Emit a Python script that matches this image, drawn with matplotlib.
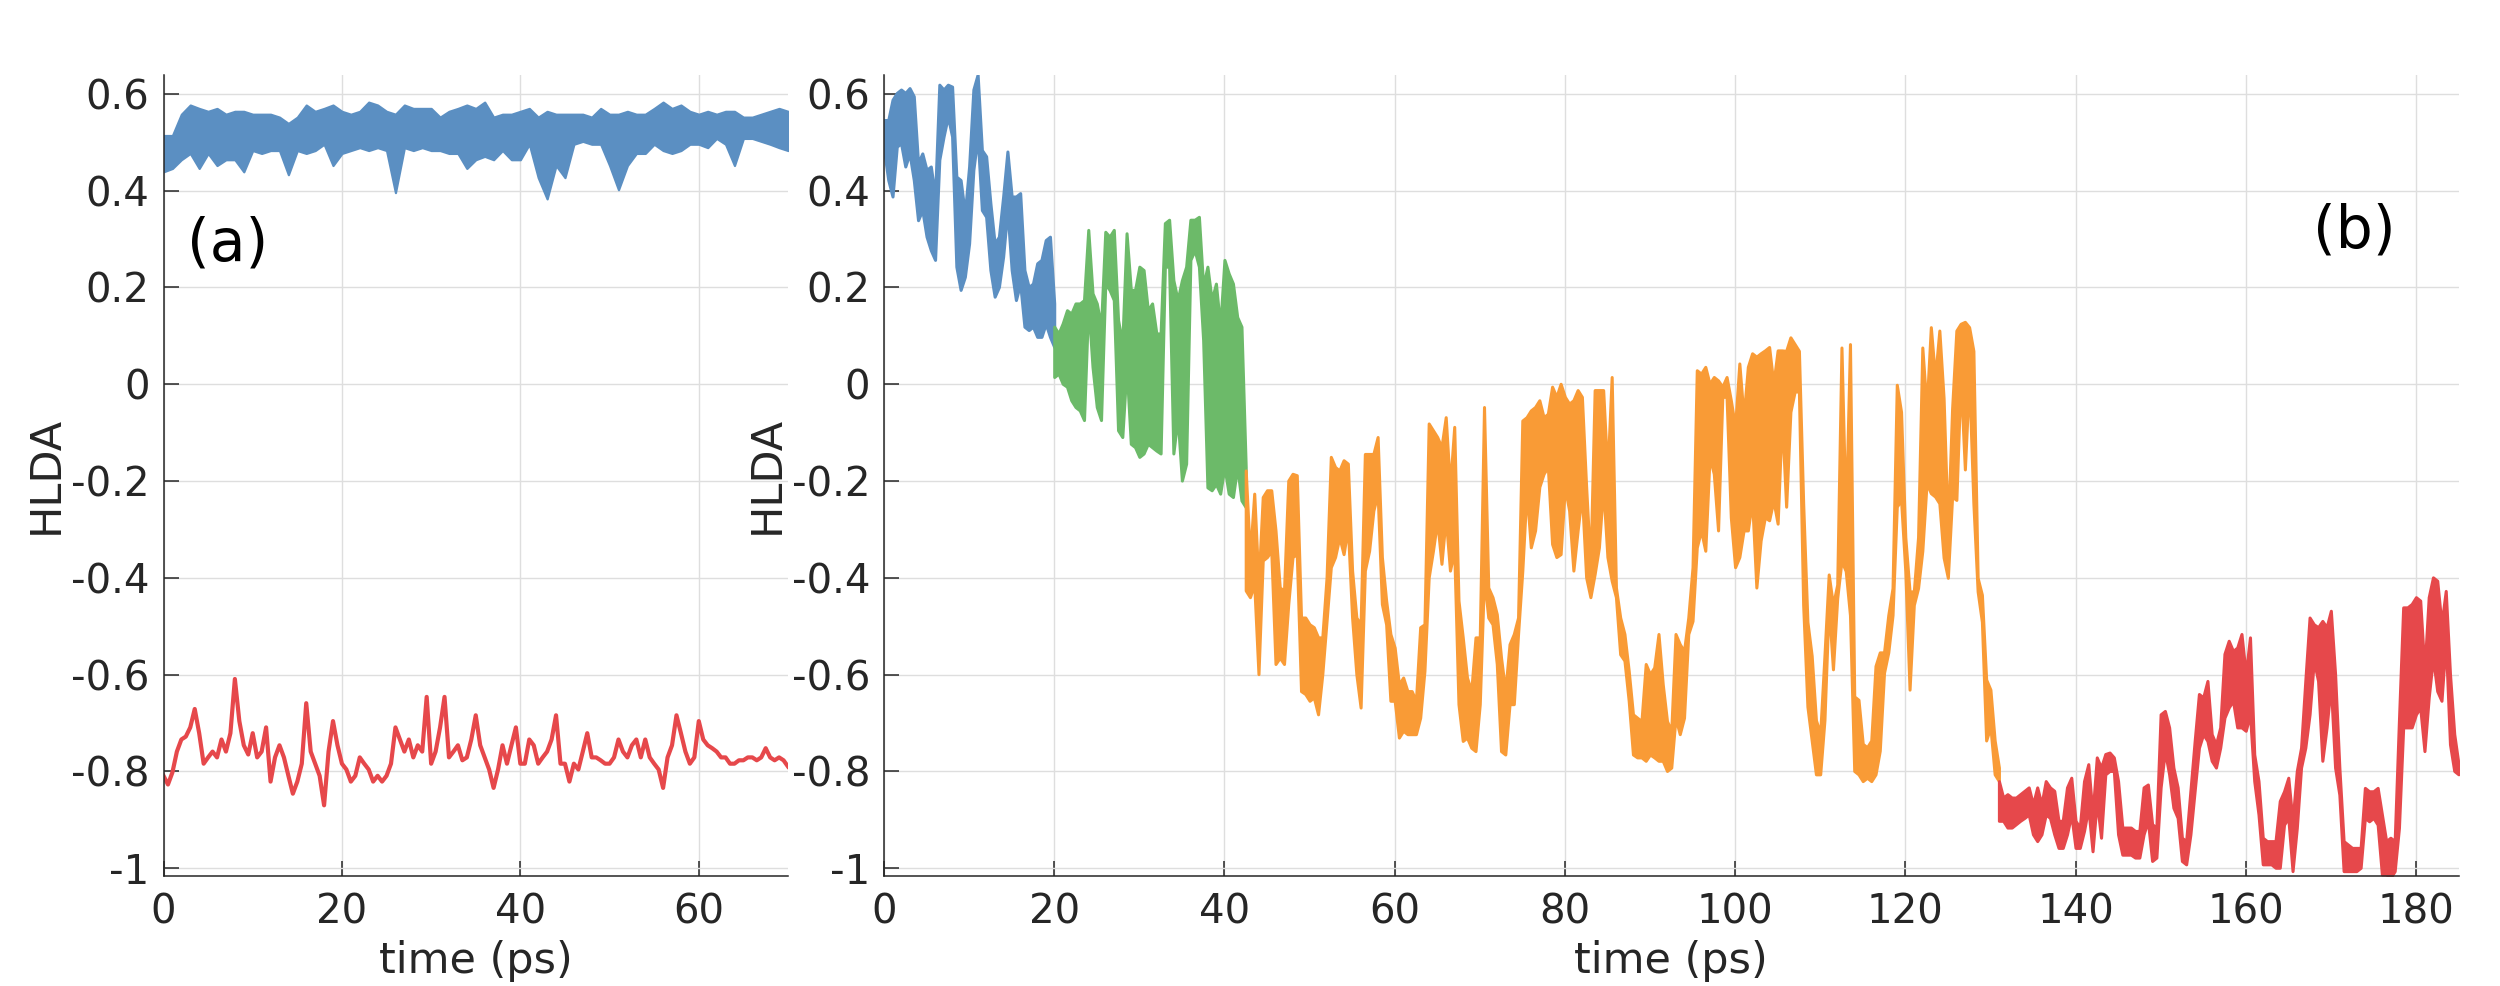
import numpy as np
import matplotlib
matplotlib.use('Agg')
import matplotlib.pyplot as plt

plt.rcParams['font.family'] = ['DejaVu Sans']
plt.rcParams['axes.unicode_minus'] = False

# -------------------------
# DATA
# -------------------------
DT = 0.5   # sampling step of the read-off values (ps)

# panel (a): two reference runs, 0-70 ps
blue_a_hi = [0.514, 0.514, 0.558, 0.577, 0.570, 0.564, 0.570, 0.558, 0.564, 0.564,
             0.558, 0.558, 0.558, 0.552, 0.539, 0.552, 0.577, 0.564, 0.570, 0.577,
             0.564, 0.558, 0.564, 0.583, 0.577, 0.564, 0.558, 0.577, 0.570, 0.570,
             0.570, 0.552, 0.564, 0.570, 0.577, 0.570, 0.583, 0.552, 0.558, 0.558,
             0.564, 0.570, 0.552, 0.564, 0.558, 0.558, 0.558, 0.558, 0.552, 0.570,
             0.558, 0.558, 0.564, 0.558, 0.558, 0.570, 0.583, 0.570, 0.577, 0.564,
             0.558, 0.564, 0.558, 0.564, 0.564, 0.552, 0.552, 0.558, 0.564, 0.570,
             0.564]
blue_a_lo = [0.439, 0.446, 0.464, 0.477, 0.446, 0.477, 0.452, 0.464, 0.464, 0.439,
             0.483, 0.477, 0.483, 0.483, 0.433, 0.483, 0.477, 0.483, 0.496, 0.452,
             0.477, 0.483, 0.489, 0.483, 0.489, 0.483, 0.396, 0.489, 0.483, 0.489,
             0.483, 0.483, 0.477, 0.477, 0.446, 0.464, 0.471, 0.464, 0.483, 0.464,
             0.464, 0.496, 0.427, 0.383, 0.452, 0.427, 0.496, 0.502, 0.496, 0.496,
             0.452, 0.402, 0.452, 0.477, 0.477, 0.496, 0.483, 0.477, 0.483, 0.496,
             0.496, 0.489, 0.508, 0.496, 0.452, 0.508, 0.508, 0.502, 0.496, 0.489,
             0.483]
red_a = [-0.809, -0.827, -0.802, -0.759, -0.734, -0.728, -0.709, -0.671, -0.721, -0.784,
         -0.771, -0.759, -0.771, -0.734, -0.759, -0.721, -0.609, -0.696, -0.746, -0.765,
         -0.721, -0.771, -0.759, -0.709, -0.821, -0.771, -0.746, -0.771, -0.809, -0.846,
         -0.821, -0.784, -0.659, -0.759, -0.784, -0.809, -0.870, -0.759, -0.696, -0.746,
         -0.784, -0.796, -0.821, -0.809, -0.771, -0.784, -0.796, -0.821, -0.809, -0.821,
         -0.809, -0.784, -0.709, -0.734, -0.759, -0.734, -0.771, -0.746, -0.759, -0.646,
         -0.784, -0.759, -0.709, -0.646, -0.771, -0.759, -0.746, -0.777, -0.771, -0.734,
         -0.684, -0.746, -0.771, -0.796, -0.834, -0.796, -0.746, -0.784, -0.746, -0.709,
         -0.784, -0.784, -0.734, -0.746, -0.784, -0.771, -0.759, -0.734, -0.684, -0.784,
         -0.784, -0.821, -0.784, -0.796, -0.759, -0.721, -0.771, -0.771, -0.777, -0.784,
         -0.784, -0.771, -0.734, -0.759, -0.771, -0.746, -0.734, -0.771, -0.734, -0.771,
         -0.784, -0.796, -0.834, -0.771, -0.746, -0.684, -0.721, -0.759, -0.784, -0.771,
         -0.696, -0.734, -0.746, -0.752, -0.759, -0.771, -0.771, -0.784, -0.784, -0.777,
         -0.777, -0.771, -0.771, -0.777, -0.771, -0.752, -0.771, -0.777, -0.771, -0.777,
         -0.790]

# panel (b): one long run split in four stages (upper / lower envelope)
blue_b_start = 0.0
blue_b_hi = [0.546, 0.546, 0.588, 0.602, 0.609, 0.602, 0.612, 0.595, 0.457, 0.477,
             0.443, 0.450, 0.388, 0.619, 0.609, 0.619, 0.615, 0.429, 0.422, 0.353,
             0.450, 0.609, 0.640, 0.484, 0.471, 0.374, 0.291, 0.305, 0.388, 0.481,
             0.388, 0.388, 0.395, 0.236, 0.201, 0.208, 0.250, 0.257, 0.298, 0.305,
             0.167]
blue_b_lo = [0.484, 0.422, 0.388, 0.491, 0.498, 0.450, 0.477, 0.422, 0.339, 0.360,
             0.305, 0.277, 0.257, 0.464, 0.512, 0.553, 0.512, 0.243, 0.195, 0.222,
             0.291, 0.443, 0.512, 0.360, 0.346, 0.236, 0.181, 0.201, 0.264, 0.360,
             0.236, 0.174, 0.208, 0.119, 0.112, 0.119, 0.098, 0.098, 0.125, 0.098,
             0.077]

green_b_start = 20.0
green_b_hi = [0.119, 0.105, 0.126, 0.153, 0.146, 0.167, 0.167, 0.174, 0.319, 0.188,
              0.167, 0.119, 0.315, 0.305, 0.319, 0.133, 0.084, 0.312, 0.195, 0.195,
              0.243, 0.236, 0.153, 0.167, 0.105, 0.105, 0.333, 0.340, 0.215, 0.174,
              0.215, 0.243, 0.340, 0.340, 0.346, 0.202, 0.243, 0.174, 0.208, 0.119,
              0.257, 0.229, 0.208, 0.139, 0.119, -0.171]
green_b_lo = [0.015, 0.022, 0.001, -0.005, -0.033, -0.047, -0.054, -0.074, 0.167, 0.036,
              -0.047, -0.074, 0.208, 0.195, 0.174, -0.095, -0.109, 0.036, -0.123, -0.130,
              -0.150, -0.143, -0.123, -0.130, -0.137, -0.143, 0.243, 0.243, -0.143, -0.068,
              -0.199, -0.164, 0.257, 0.277, 0.243, 0.091, -0.213, -0.219, -0.206, -0.226,
              -0.171, -0.226, -0.233, -0.171, -0.240, -0.254]

orange_b_start = 42.5
orange_b_hi = [-0.178, -0.357, -0.226, -0.413, -0.233, -0.219, -0.219, -0.302, -0.420, -0.426,
               -0.199, -0.185, -0.188, -0.482, -0.482, -0.496, -0.502, -0.523, -0.523, -0.399,
               -0.150, -0.171, -0.178, -0.157, -0.164, -0.385, -0.482, -0.496, -0.144, -0.144,
               -0.144, -0.109, -0.357, -0.447, -0.516, -0.544, -0.620, -0.606, -0.634, -0.634,
               -0.654, -0.502, -0.496, -0.081, -0.095, -0.109, -0.130, -0.068, -0.213, -0.088,
               -0.447, -0.523, -0.606, -0.634, -0.523, -0.523, -0.047, -0.420, -0.440, -0.475,
               -0.565, -0.634, -0.537, -0.516, -0.482, -0.075, -0.068,
               -0.054, -0.047, -0.033, -0.068, -0.061, -0.005, -0.026, 0.001, -0.026, -0.040,
               -0.033, -0.012, -0.026, -0.212, -0.378, -0.012, -0.012, -0.012, -0.185, 0.015,
               -0.420, -0.482, -0.516, -0.592, -0.682, -0.689, -0.696, -0.578, -0.599, -0.585,
               -0.516, -0.620, -0.696, -0.716, -0.516, -0.537, -0.551, -0.482, -0.378, 0.029,
               0.022, 0.036, 0.001, 0.015, 0.008, -0.005, 0.015, -0.033, -0.088, 0.043,
               -0.068, 0.036, 0.064, 0.057, 0.064, 0.070, 0.077, 0.001, 0.070, 0.070,
               0.069, 0.097, 0.083, 0.069, -0.246, -0.491, -0.561, -0.694, -0.722, -0.561,
               -0.393, -0.456, -0.414, 0.076, -0.281, 0.083, -0.645, -0.652, -0.743, -0.750,
               -0.736, -0.582, -0.554, -0.554, -0.477, -0.421, -0.001, -0.057, -0.316, -0.428,
               -0.428, -0.316, 0.076, -0.050, 0.118, 0.013, 0.111, -0.029, -0.302, -0.050,
               0.111, 0.125, 0.129, 0.118, 0.069, -0.400, -0.435, -0.610, -0.631, -0.736,
               -0.792]
orange_b_lo = [-0.426, -0.440, -0.413, -0.599, -0.364, -0.357, -0.344, -0.578, -0.565, -0.578,
               -0.454, -0.357, -0.351, -0.634, -0.640, -0.654, -0.647, -0.682, -0.599, -0.489,
               -0.378, -0.357, -0.316, -0.351, -0.295, -0.482, -0.599, -0.668, -0.385, -0.344,
               -0.261, -0.226, -0.454, -0.496, -0.654, -0.654, -0.730, -0.716, -0.723, -0.723,
               -0.723, -0.689, -0.592, -0.399, -0.344, -0.282, -0.371, -0.275, -0.385, -0.344,
               -0.661, -0.737, -0.730, -0.751, -0.758, -0.661, -0.399, -0.482, -0.496, -0.578,
               -0.758, -0.765, -0.661, -0.661, -0.516, -0.385, -0.219,
               -0.337, -0.302, -0.212, -0.185, -0.171, -0.330, -0.357, -0.351, -0.212, -0.261,
               -0.385, -0.302, -0.226, -0.399, -0.440, -0.392, -0.337, -0.212, -0.357, -0.406,
               -0.440, -0.558, -0.571, -0.654, -0.765, -0.771, -0.771, -0.778, -0.765, -0.771,
               -0.778, -0.778, -0.799, -0.792, -0.689, -0.723, -0.689, -0.516, -0.489, -0.337,
               -0.302, -0.344, -0.150, -0.185, -0.302, -0.026, -0.026, -0.275, -0.378, -0.357,
               -0.302, -0.302, -0.240, -0.420, -0.323, -0.275, -0.281, -0.240, -0.288, -0.068,
               -0.253, -0.057, -0.015, -0.015, -0.456, -0.666, -0.736, -0.806, -0.806, -0.694,
               -0.456, -0.589, -0.442, -0.365, -0.386, -0.477, -0.799, -0.806, -0.820, -0.813,
               -0.820, -0.806, -0.757, -0.596, -0.554, -0.477, -0.253, -0.239, -0.386, -0.631,
               -0.456, -0.421, -0.344, -0.204, -0.225, -0.232, -0.246, -0.358, -0.400, -0.232,
               -0.239, 0.013, -0.176, 0.013, -0.246, -0.428, -0.491, -0.736, -0.708, -0.806,
               -0.820]

red_b_start = 131.0
red_b_hi = [-0.820, -0.854, -0.847, -0.854, -0.854, -0.847, -0.840, -0.833, -0.868, -0.833,
            -0.868, -0.820, -0.833, -0.840, -0.902, -0.902, -0.833, -0.813, -0.902, -0.916,
            -0.820, -0.785, -0.889, -0.771, -0.792, -0.764, -0.761, -0.771, -0.820, -0.916,
            -0.916, -0.916, -0.923, -0.923, -0.833, -0.827, -0.909, -0.916, -0.682, -0.675,
            -0.709, -0.792, -0.833, -0.937, -0.944, -0.840, -0.737, -0.640, -0.647, -0.613,
            -0.723, -0.744, -0.709, -0.557, -0.530, -0.551, -0.544,
            -0.516, -0.599, -0.523, -0.765, -0.820, -0.937, -0.944, -0.944, -0.944, -0.861,
            -0.841, -0.813, -0.903, -0.799, -0.751, -0.613, -0.482, -0.496, -0.502, -0.489,
            -0.502, -0.468, -0.599, -0.792, -0.944, -0.951, -0.958, -0.958, -0.958, -0.834,
            -0.841, -0.841, -0.834, -0.889, -0.944, -0.937, -0.944, -0.696, -0.461, -0.461,
            -0.454, -0.440, -0.447, -0.592, -0.440, -0.399, -0.406, -0.496, -0.427, -0.599,
            -0.723, -0.785]
red_b_lo = [-0.902, -0.902, -0.916, -0.916, -0.909, -0.902, -0.896, -0.889, -0.930, -0.944,
            -0.930, -0.889, -0.896, -0.930, -0.958, -0.958, -0.930, -0.889, -0.958, -0.958,
            -0.923, -0.875, -0.965, -0.861, -0.937, -0.806, -0.799, -0.799, -0.930, -0.972,
            -0.972, -0.972, -0.978, -0.978, -0.930, -0.902, -0.985, -0.978, -0.833, -0.758,
            -0.806, -0.875, -0.896, -0.985, -0.992, -0.930, -0.840, -0.751, -0.723, -0.737,
            -0.778, -0.792, -0.751, -0.689, -0.668, -0.654, -0.709,
            -0.709, -0.716, -0.682, -0.820, -0.889, -0.992, -0.992, -0.992, -0.999, -0.999,
            -0.910, -0.896, -1.006, -0.917, -0.792, -0.751, -0.682, -0.571, -0.613, -0.778,
            -0.709, -0.620, -0.792, -0.848, -1.006, -1.006, -1.006, -1.006, -0.999, -0.896,
            -0.903, -0.896, -0.910, -1.013, -1.013, -1.020, -1.006, -0.917, -0.709, -0.709,
            -0.709, -0.682, -0.668, -0.758, -0.647, -0.565, -0.634, -0.654, -0.530, -0.744,
            -0.799, -0.806]

yticks = [-1, -0.8, -0.6, -0.4, -0.2, 0, 0.2, 0.4, 0.6]
ytick_labels = ['-1', '-0.8', '-0.6', '-0.4', '-0.2', '0', '0.2', '0.4', '0.6']
xticks_a = [0, 20, 40, 60]
xticks_b = [0, 20, 40, 60, 80, 100, 120, 140, 160, 180]

C_BLUE = '#5b8fc2'
C_GREEN = '#6cba69'
C_ORANGE = '#f99b36'
C_RED = '#e6484b'
C_TEXT = '#262626'


def times(start, values, step):
    return start + step * np.arange(len(values))


def style_axis(ax, xticks, xmax):
    ax.set_xlim(0, xmax)
    ax.set_ylim(-1.016, 0.64)
    ax.set_xticks(xticks)
    ax.set_yticks(yticks)
    ax.set_yticklabels(ytick_labels)
    for side in ['top', 'right']:
        ax.spines[side].set_visible(False)
    for side in ['left', 'bottom']:
        ax.spines[side].set_color(C_TEXT)
        ax.spines[side].set_linewidth(1.1)
    ax.grid(True, color='#dedede', linewidth=1.0)
    ax.set_axisbelow(True)
    ax.tick_params(direction='in', length=10.5, width=1.1, colors=C_TEXT,
                   labelsize=29)
    ax.tick_params(axis='x', pad=12)
    ax.tick_params(axis='y', pad=10)
    ax.set_xlabel('time (ps)', fontsize=31, color=C_TEXT)
    ax.set_ylabel('HLDA', fontsize=31, color=C_TEXT)


# -------------------------
# FIGURE
# -------------------------
fig = plt.figure(figsize=(25, 9.86), dpi=100)
ax_a = fig.add_axes([0.0654, 0.1116, 0.2498, 0.8128])
ax_b = fig.add_axes([0.3536, 0.1116, 0.6298, 0.8128])

# panel (a)
t_blue_a = times(0.0, blue_a_hi, 1.0)
ax_a.fill_between(t_blue_a, blue_a_lo, blue_a_hi, color=C_BLUE, linewidth=1.6)
ax_a.plot(times(0.0, red_a, DT), red_a, color=C_RED, linewidth=3.0)
style_axis(ax_a, xticks_a, 70)
ax_a.xaxis.set_label_coords(0.5, -0.08)
ax_a.yaxis.set_label_coords(-0.1545, 0.5)
ax_a.text(0.1025, 0.789, '(a)', transform=ax_a.transAxes, fontsize=42,
          ha='center', va='center', color='black')

# panel (b)
segments = [
    (blue_b_start, blue_b_lo, blue_b_hi, C_BLUE),
    (green_b_start, green_b_lo, green_b_hi, C_GREEN),
    (orange_b_start, orange_b_lo, orange_b_hi, C_ORANGE),
    (red_b_start, red_b_lo, red_b_hi, C_RED),
]
for start, lo, hi, c in segments:
    t = times(start, hi, DT)
    ax_b.fill_between(t, lo, hi, color=c, linewidth=2.2)
style_axis(ax_b, xticks_b, 185)
ax_b.xaxis.set_label_coords(0.5, -0.08)
ax_b.yaxis.set_label_coords(-0.0613, 0.5)
ax_b.text(0.934, 0.805, '(b)', transform=ax_b.transAxes, fontsize=42,
          ha='center', va='center', color='black')

fig.savefig('out.png', dpi=100)
